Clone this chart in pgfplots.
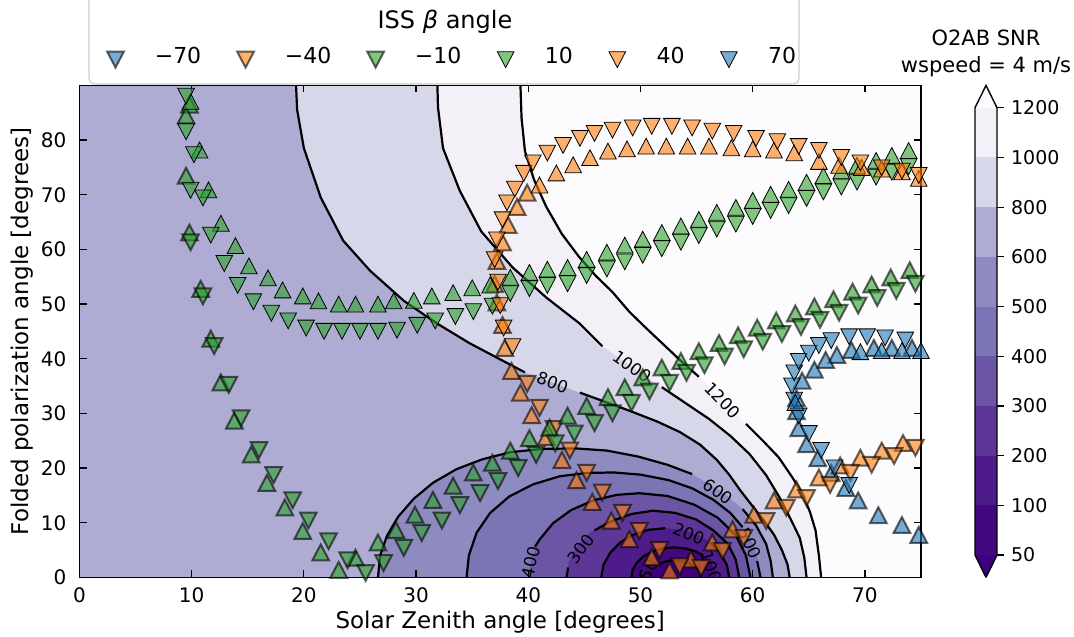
\documentclass[border=0pt]{standalone}
\usepackage{fontspec}
\setmainfont{DejaVu Sans}
\usepackage{pgfplots}
\pgfplotsset{compat=1.18}

% marker colours
\definecolor{tabblue}{HTML}{1F77B4}
\definecolor{taborange}{HTML}{FF7F0E}
\definecolor{tabgreen}{HTML}{2CA02C}
% filled contour levels (Purples, reversed)
\definecolor{lvover}{RGB}{252,251,253}
\definecolor{lv1100}{RGB}{243,241,247}
\definecolor{lv900}{RGB}{215,215,234}
\definecolor{lv700}{RGB}{174,172,210}
\definecolor{lv550}{RGB}{142,139,193}
\definecolor{lv450}{RGB}{123,116,181}
\definecolor{lv350}{RGB}{108,85,165}
\definecolor{lv250}{RGB}{93,55,151}
\definecolor{lv150}{RGB}{78,27,138}
\definecolor{lv75}{RGB}{67,7,128}
\definecolor{lvunder}{RGB}{63,0,125}

\pgfplotsset{
  tri/.style={only marks, mark=triangle*, mark size=4.8pt},
  plain up/.style={tri, mark options={yscale=1.1, fill=#1, draw=none, fill opacity=0.6}},
  plain dn/.style={tri, mark options={rotate=180, yscale=1.1, fill=#1, draw=none, fill opacity=0.6}},
  edged up/.style={tri, mark options={yscale=1.1, fill=#1, draw=black, opacity=0.6, line width=1pt}},
  edged dn/.style={tri, mark options={rotate=180, yscale=1.1, fill=#1, draw=black, opacity=0.6, line width=1pt}},
  cline/.style={black, line width=1.1pt, forget plot},
  cfill/.style={fill=#1, draw=none, forget plot},
}
\tikzset{clab/.style={font=\fontsize{8.4}{9}\selectfont, inner sep=0pt}}

\begin{document}
\begin{tikzpicture}
\useasboundingbox (-39.75pt,-29.3pt) rectangle (497.25pt,288.7pt);

% legend frame and title
\draw[draw=black!20, fill=white, rounded corners=3pt, line width=0.6pt]
  (4.75pt,246.7pt) rectangle (359.75pt,296pt);
\node[font=\fontsize{12}{14}\selectfont] at (182.75pt,277.7pt) {ISS {\itshape β} angle};

\begin{axis}[
  at={(0pt,0pt)}, anchor=south west,
  width=420.75pt, height=246pt, scale only axis,
  xmin=0, xmax=75, ymin=0, ymax=90,
  xtick={0,10,...,70}, ytick={0,10,...,80},
  tick align=inside, xtick pos=both, ytick pos=both,
  xticklabel pos=lower, yticklabel pos=left,
  major tick length=3.5pt,
  tick style={black, line width=0.6pt},
  axis line style={black, line width=0.8pt},
  axis on top,
  ticklabel style={font=\fontsize{10}{12}\selectfont},
  xticklabel style={yshift=-1.5pt},
  yticklabel style={xshift=-3pt},
  /pgf/number format/assume math mode=true,
  xlabel={Solar Zenith angle [degrees]},
  ylabel={Folded polarization angle [degrees]},
  label style={font=\fontsize{11.5}{14}\selectfont},
  xlabel style={at={(axis description cs:0.5,-0.0907)}, anchor=center},
  ylabel style={at={(axis description cs:-0.0683,0.5)}, anchor=center},
  legend columns=6,
  legend style={at={(0.4447,1.0577)}, anchor=center, draw=none, fill=none,
    font=\fontsize{11}{13}\selectfont,
    /tikz/every odd column/.append style={column sep=13.5pt},
    /tikz/every even column/.append style={column sep=16pt}},
]

% ---- filled SNR levels ----
\addplot[cfill=lv700] coordinates {(0,0) (75,0) (75,90) (0,90)};
\addplot[cfill=lv900] coordinates {(19.3,90) (19.4,85.5) (20,78.5) (21.5,69.5) (23.5,61.6) (25.9,56.1) (28.9,50.6) (31.9,46.4) (34.8,42.8) (37.2,40.2) (39.7,37.5) (44.6,33.8) (47,32) (49,30.5) (51.5,28.5) (53.5,26.6) (55.3,24.3) (56.8,21.5) (57.9,18.8) (58.9,15.9) (60,13) (61,10.4) (61.9,7.8) (62.6,5) (63.1,2.4) (63.3,0) (75,0) (75,90)};
\addplot[cfill=lv1100] coordinates {(31.9,90) (31.95,86) (32.4,78.5) (33.9,70.7) (35.8,63.3) (38.6,56.7) (41.6,51.2) (44.6,46.4) (46.6,42.3) (51.9,34.8) (54,31.9) (56.1,29) (58,25.9) (59.7,22.6) (61.2,18.7) (62.4,14.6) (63.4,10.6) (64.2,7.2) (64.6,3.6) (64.8,0) (75,0) (75,90)};
\addplot[cfill=lvover] coordinates {(39.3,90) (39.4,84) (39.7,78) (40.5,72.8) (41.6,67.8) (43,62.8) (44.5,58.7) (46,55.2) (47.5,52.2) (49,48.6) (50.5,45.6) (52,42.7) (53.5,39.8) (55.2,36.7) (59.4,28.1) (61,24.8) (62.3,22) (63.5,18.4) (64.4,15.4) (65.1,12) (65.6,8.6) (65.9,4) (66.1,0) (75,0) (75,90)};
\addplot[cfill=lv550] coordinates {(26.6,0) (26.8,4) (27.4,7.6) (28.4,11.1) (29.8,14.4) (31.5,17.3) (33.6,19.8) (35.9,21.6) (38.4,22.9) (41.2,23.5) (44.2,23.6) (47,23.2) (49.8,22.1) (52.4,20.6) (54.6,18.9) (57.3,15.6) (59.1,12.5) (60.3,9.5) (61.2,6.1) (61.6,3) (61.8,0)};
\addplot[cfill=lv450] coordinates {(34.5,0) (34.7,4) (35.4,8.2) (36.6,11.8) (38.3,14.8) (40.4,17) (42.8,18.5) (45.2,19.1) (47.6,19.2) (50,18.8) (52.5,17.8) (54.6,16.3) (56.5,14.2) (58,11.8) (59.1,9.2) (60,6.3) (60.4,3.6) (60.7,0)};
\addplot[cfill=lv350] coordinates {(40,0) (40.3,3.5) (41,6.9) (42.2,9.9) (43.8,12.3) (45.8,14.1) (47.9,15.1) (49.9,15.4) (52.4,14.9) (54.8,13.3) (56.9,10.9) (58.5,7.7) (59.4,4) (59.8,0)};
\addplot[cfill=lv250] coordinates {(43.4,0) (43.6,3) (44.4,5.9) (45.6,8.4) (47.3,10.2) (49.2,11.6) (51.1,12.2) (53.1,11.8) (54.95,10.6) (56.5,8.6) (57.8,6.1) (58.5,3.2) (58.8,0)};
\addplot[cfill=lv150] coordinates {(46.5,0) (46.7,2.3) (47.3,4.5) (48.2,6.4) (49.35,7.8) (50.7,8.7) (52.2,9) (53.7,8.7) (55.05,7.8) (56.2,6.4) (57.1,4.5) (57.7,2.3) (57.9,0)};
\addplot[cfill=lv75] coordinates {(49.2,0) (49.3,1.42) (49.7,2.75) (50.3,3.9) (51.1,4.76) (52,5.3) (53,5.5) (54,5.3) (54.9,4.76) (55.7,3.9) (56.3,2.75) (56.67,1.42) (56.8,0)};
\addplot[cfill=lvunder] coordinates {(50.6,0) (50.7,0.8) (50.9,1.55) (51.3,2.2) (51.8,2.7) (52.4,3) (53,3.1) (53.6,3) (54.2,2.7) (54.7,2.2) (55.08,1.55) (55.3,0.8) (55.4,0)};

% ---- contour lines ----
\addplot[cline] coordinates {(19.3,90) (19.4,85.5) (20,78.5) (21.5,69.5) (23.5,61.6) (25.9,56.1) (28.9,50.6) (31.9,46.4) (34.8,42.8) (37.2,40.2) (39.7,37.5)};
\addplot[cline] coordinates {(44.6,33.8) (47,32) (49,30.5) (51.5,28.5) (53.5,26.6) (55.3,24.3) (56.8,21.5) (57.9,18.8) (58.9,15.9) (60,13) (61,10.4) (61.9,7.8) (62.6,5) (63.1,2.4) (63.3,0)};
\addplot[cline] coordinates {(31.9,90) (31.95,86) (32.4,78.5) (33.9,70.7) (35.8,63.3) (38.6,56.7) (41.6,51.2) (44.6,46.4) (46.6,42.3)};
\addplot[cline] coordinates {(51.9,34.8) (54,31.9) (56.1,29) (58,25.9) (59.7,22.6) (61.2,18.7) (62.4,14.6) (63.4,10.6) (64.2,7.2) (64.6,3.6) (64.8,0)};
\addplot[cline] coordinates {(39.3,90) (39.4,84) (39.7,78) (40.5,72.8) (41.6,67.8) (43,62.8) (44.5,58.7) (46,55.2) (47.5,52.2) (49,48.6) (50.5,45.6) (52,42.7) (53.5,39.8) (55.2,36.7)};
\addplot[cline] coordinates {(59.4,28.1) (61,24.8) (62.3,22) (63.5,18.4) (64.4,15.4) (65.1,12) (65.6,8.6) (65.9,4) (66.1,0)};
\addplot[cline] coordinates {(26.6,0) (26.8,4) (27.4,7.6) (28.4,11.1) (29.8,14.4) (31.5,17.3) (33.6,19.8) (35.9,21.6) (38.4,22.9) (41.2,23.5) (44.2,23.6) (47,23.2) (49.8,22.1) (52.4,20.6) (54.6,18.9)};
\addplot[cline] coordinates {(59.1,12.5) (60.3,9.5) (61.2,6.1) (61.6,3) (61.8,0)};
\addplot[cline] coordinates {(34.5,0) (34.7,4) (35.4,8.2) (36.6,11.8) (38.3,14.8) (40.4,17) (42.8,18.5) (45.2,19.1) (47.6,19.2) (50,18.8) (52.5,17.8) (54.6,16.3) (56.5,14.2) (58,11.8) (59.1,9.2)};
\addplot[cline] coordinates {(60.4,3.0) (60.7,0)};
\addplot[cline] coordinates {(40.6,5.6) (41,6.9) (42.2,9.9) (43.8,12.3) (45.8,14.1) (47.9,15.1) (49.9,15.4) (52.4,14.9) (54.8,13.3) (56.9,10.9) (58.5,7.7) (59.4,4) (59.8,0)};
\addplot[cline] coordinates {(43.4,0) (43.55,1.8)};
\addplot[cline] coordinates {(45.9,8.6) (47.3,10.2) (49.2,11.6) (51.1,12.2) (53.1,11.8) (54.95,10.6) (56.5,8.6) (57.8,6.1) (58.5,3.2) (58.8,0)};
\addplot[cline] coordinates {(46.5,0) (46.7,2.3) (47.3,4.5) (48.2,6.4) (49.35,7.8) (50.7,8.7) (52.2,9)};
\addplot[cline] coordinates {(56.2,6.4) (57.1,4.5) (57.7,2.3) (57.9,0)};
\addplot[cline] coordinates {(49.2,0) (49.3,1.42) (49.7,2.75) (50.3,3.9) (51.1,4.76) (52,5.3) (53,5.5) (54,5.3) (54.9,4.76) (55.6,4.0)};
\addplot[cline] coordinates {(51.5,2.35) (52.4,3) (53,3.1) (53.6,3) (54.2,2.7) (54.7,2.2) (55.08,1.55) (55.3,0.8) (55.4,0)};

% ---- contour labels ----
\node[clab, rotate=-20] at (axis cs:42.15,35.65) {800};
\node[clab, rotate=-35] at (axis cs:49.25,38.55) {1000};
\node[clab, rotate=-46] at (axis cs:57.3,32.4) {1200};
\node[clab, rotate=-35] at (axis cs:56.9,15.7) {600};
\node[clab, rotate=-65] at (axis cs:59.75,6.2) {500};
\node[clab, rotate=78] at (axis cs:40.25,2.8) {400};
\node[clab, rotate=55] at (axis cs:44.7,5.2) {300};
\node[clab, rotate=-22] at (axis cs:54.3,8.0) {200};
\node[clab, rotate=-72] at (axis cs:56.3,1.9) {100};
\node[clab, rotate=65] at (axis cs:50.75,1.3) {50};

% ---- ISS beta = -70 ----
\addplot[edged up=tabblue, forget plot] coordinates {(74.2,41.5) (72.4,41.5) (70.8,41.5) (68.8,41.1) (67.5,40.2) (66.5,39.3) (65.5,37.5) (64.4,35.5) (63.9,32.3) (63.9,29.9) (64.1,26.8) (64.8,23.9) (65.8,21.3) (67,18.6) (68.3,15.9) (69.4,13.6) (71.2,10.9) (73.3,9.1) (74.8,7.3)};
% ---- ISS beta = -40 ----
\addplot[edged up=taborange, forget plot] coordinates {(39.9,69.9) (39,67.3) (38.2,64) (37.7,60.8) (37.2,57.4) (37,53.2) (37.2,49.8) (37.7,45.7) (37.9,41.5) (38.5,37.3) (39.3,33.3) (40.3,29.2) (41.6,25.2) (43,21) (44.3,17.3) (45.7,13.3) (47.4,9.9) (49,6.5) (51,3.2) (52.6,0.8) (54.5,2.8) (56.4,5.9) (58.2,8.3) (60.1,11) (61.9,13.6) (63.9,15.6) (65.9,17.8) (67.8,20) (69.6,21.4) (71.5,22.7) (73.4,24.1) (75.3,25.4)};
\addplot[edged dn=taborange, forget plot] coordinates {(39.9,35.9) (41,31.5) (42.3,27.6) (43.7,23.7) (45.2,19.6) (46.6,16) (48.4,12.3) (49.9,9) (51.7,5.5) (53.5,2.5) (55.4,2.2) (57.3,5.3) (59.2,7.7) (61.2,10.8) (63,13.2) (64.8,15) (66.9,17.4) (68.7,19.6) (70.6,21.1) (72.6,22.7) (74.5,24.2)};
% ---- ISS beta = -10 ----
\addplot[edged up=tabgreen, forget plot] coordinates {(9.8,86) (9.5,84) (9.5,73) (9.8,62.6) (10.8,52.3) (11.7,43.2) (12.6,35.2) (13.8,28.2) (15.3,22) (16.7,16.8) (18.3,12.3) (19.9,8) (21.5,4.1) (23.1,0.9) (24.6,3.1) (26.6,5.9) (28.2,8.2) (29.9,11) (31.5,13.7) (33.3,16.3) (35.1,18.7) (36.8,20.5) (38.4,22.7) (40.1,25) (41.9,26.9) (43.5,29.1) (45.2,30.9) (47.1,32.5) (48.6,34.3) (50.2,36.1) (51.9,37.9) (53.6,39.1) (55.2,40.9) (57,42.4) (58.7,43.8) (60.4,45.2) (62.1,46.5) (63.8,47.8) (65.5,49.1) (67.2,50.4) (68.9,51.8) (70.6,53.1) (72.3,54.4) (74,55.7)};
\addplot[edged dn=tabgreen, forget plot] coordinates {(9.9,61.8) (11,51.9) (12,42.8) (13.3,35.7) (14.4,29.6) (16,23.8) (17.3,19.2) (19,14.6) (20.4,10.9) (22.2,7.1) (23.9,3.6) (25.5,1.3) (27.1,3.1) (28.9,5.9) (30.5,8.6) (32.3,10.9) (33.9,13.7) (35.7,15.9) (37.3,18.1) (39.1,20.5) (40.7,22.9) (42.4,25) (44.1,26.8) (45.9,28.7) (47.5,30.5) (49.2,32.4) (50.8,34.5) (52.6,36.1) (54.1,37.9) (55.7,39.3) (57.5,40.9) (59.2,42.2) (60.9,43.6) (62.6,45) (64.3,46.3) (66,47.6) (67.7,48.9) (69.4,50.2) (71.1,51.6) (72.8,52.9) (74.5,54.2)};
% ---- ISS beta = 10 ----
\addplot[plain up=tabgreen, forget plot] coordinates {(9.9,86.6) (10.7,77.7) (11.5,70.4) (12.6,64.3) (13.9,60.2) (15.1,56.5) (16.8,54.3) (18.1,52.1) (19.9,51) (21.3,50.1) (23.1,49.5) (24.6,49.5) (26.6,49.5) (28,50.1) (29.8,50.2) (31.4,51) (33.3,51.6) (35,52.5) (36.6,53) (38.4,54.4) (40.1,55.3) (41.7,55.9) (43.5,56.2) (45.2,57.7) (47,59) (48.6,60.3) (50.2,61.4) (51.9,62.6) (53.6,63.8) (55.2,65) (56.8,66.3) (58.5,67.2) (60,68.5) (61.6,69.6) (63.2,70.5) (64.8,71.8) (66.3,73) (67.9,73.9) (69.3,74.9) (71,75.8) (72.4,76.7) (73.9,77.6)};
\addplot[plain dn=tabgreen, forget plot] coordinates {(9.5,88.5) (9.5,82) (10.2,77.8) (9.9,71.3) (11,69.9) (11.7,63.1) (12.9,57.9) (14.1,53.9) (15.5,50.9) (17.1,48.8) (18.6,47.4) (20.2,46.1) (21.8,45.5) (23.4,45.5) (25,45.5) (26.6,45.5) (28.3,45.7) (30.1,46.6) (31.7,47.4) (33.5,48.2) (35.1,49.1) (36.8,50.1) (38.4,52.4) (40.1,53.3) (41.7,53.9) (43.5,54.2) (45.2,55.7) (47,56.9) (48.6,58.2) (50.2,59.4) (51.9,60.6) (53.6,61.8) (55.2,63) (56.8,64.2) (58.5,65.1) (60,66.5) (61.6,67.6) (63.2,68.5) (64.8,69.8) (66.3,71) (67.9,71.9) (69.3,72.8) (71,73.7) (72.4,74.6) (73.9,75.6)};
% ---- ISS beta = 40 ----
\addplot[plain up=taborange, forget plot] coordinates {(41,71.3) (42.5,73.5) (44,75) (45.5,76.3) (47.1,77.5) (48.8,77.9) (50.5,78.4) (52.3,78.4) (54.2,78.4) (56.1,78.4) (58.1,78.1) (60,77.9) (61.9,77.7) (63.7,77.2) (65.9,75.6) (67.7,74.9) (69.7,74.5) (71.5,74.2) (73.3,73.7) (74.8,72.5)};
\addplot[plain dn=taborange, forget plot] coordinates {(38.6,42.7) (37.8,46.1) (37.5,50.2) (37.3,54.5) (37,58.6) (37.2,62.2) (37.7,65.9) (38.1,69) (38.8,71.5) (39.6,74.4) (40.4,76.3) (41.7,78.1) (43.1,79.5) (44.6,80.8) (45.9,81.7) (47.5,82.3) (49.3,82.7) (51,83) (52.8,83) (54.6,82.7) (56.4,82.1) (58.3,81.7) (60.3,80.8) (62.2,80.2) (64.1,79.3) (65.9,78.6) (67.9,77.3) (69.6,76.3) (71.5,75.4) (73.3,74.8) (74.8,74)};
% ---- ISS beta = 70 ----
\addplot[plain dn=tabblue, forget plot] coordinates {(68.6,17.3) (67.3,20.5) (66.1,23.7) (65,26.8) (64.1,30) (63.7,32.9) (63.5,35.5) (63.7,37.9) (64.1,40) (65,41.5) (65.9,42.9) (67,43.8) (68.6,44.5) (70.2,44.5) (71.8,44.3) (73.6,43.9)};
\addplot[plain up=tabblue, forget plot] coordinates {(63.8,31.5) (69.6,40.8) (71.5,41) (73.3,41) (75,41)};

% ---- legend ----
\addlegendimage{edged dn=tabblue}\addlegendentry{−70}
\addlegendimage{edged dn=taborange}\addlegendentry{−40}
\addlegendimage{edged dn=tabgreen}\addlegendentry{−10}
\addlegendimage{plain dn=tabgreen}\addlegendentry{10}
\addlegendimage{plain dn=taborange}\addlegendentry{40}
\addlegendimage{plain dn=tabblue}\addlegendentry{70}
\end{axis}

% ---- colour bar ----
\begin{axis}[
  at={(447.75pt,0pt)}, anchor=south west,
  width=11pt, height=246pt, scale only axis,
  xmin=0, xmax=1, ymin=-0.45, ymax=9.45, clip=false,
  axis line style={draw=none},
  xtick=\empty,
  ytick={0,...,9},
  yticklabels={50,100,200,300,400,500,600,800,1000,1200},
  ytick pos=right, yticklabel pos=right,
  tick align=outside, major tick length=3.5pt,
  tick style={black, line width=0.6pt},
  ticklabel style={font=\fontsize{9.5}{11}\selectfont},
  /pgf/number format/assume math mode=true,
]
\addplot[cfill=lvunder] coordinates {(0,0) (1,0) (0.5,-0.45)};
\addplot[cfill=lv75] coordinates {(0,0) (1,0) (1,1) (0,1)};
\addplot[cfill=lv150] coordinates {(0,1) (1,1) (1,2) (0,2)};
\addplot[cfill=lv250] coordinates {(0,2) (1,2) (1,3) (0,3)};
\addplot[cfill=lv350] coordinates {(0,3) (1,3) (1,4) (0,4)};
\addplot[cfill=lv450] coordinates {(0,4) (1,4) (1,5) (0,5)};
\addplot[cfill=lv550] coordinates {(0,5) (1,5) (1,6) (0,6)};
\addplot[cfill=lv700] coordinates {(0,6) (1,6) (1,7) (0,7)};
\addplot[cfill=lv900] coordinates {(0,7) (1,7) (1,8) (0,8)};
\addplot[cfill=lv1100] coordinates {(0,8) (1,8) (1,9) (0,9)};
\addplot[cfill=lvover] coordinates {(0,9) (1,9) (0.5,9.45)};
\addplot[black, line width=0.7pt, forget plot] coordinates {(0.5,-0.45) (1,0) (1,9) (0.5,9.45) (0,9) (0,0) (0.5,-0.45)};
\end{axis}

\node[align=center, font=\fontsize{10.5}{13.5}\selectfont] at (453.25pt,262pt) {O2AB SNR\\wspeed = 4 m/s};
\end{tikzpicture}
\end{document}
